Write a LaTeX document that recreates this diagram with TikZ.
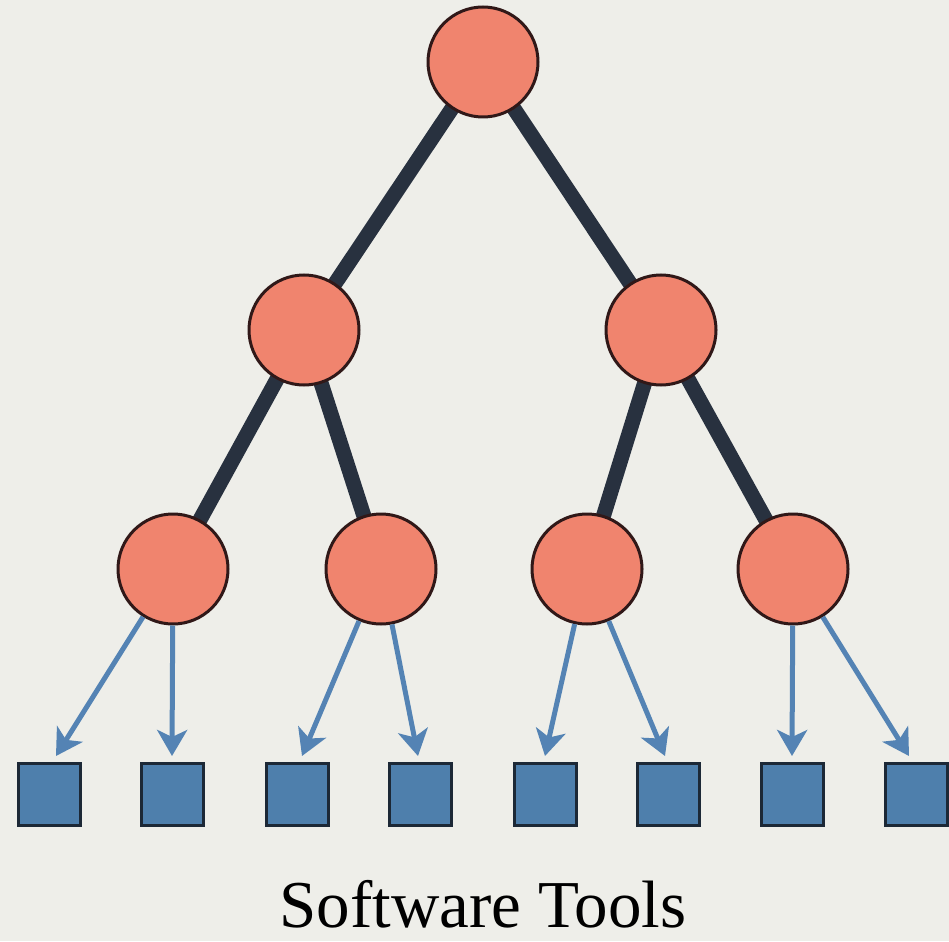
\documentclass[tikz,border=0pt]{standalone}
\usepackage{fontspec}
\setmainfont{Liberation Serif}
\usetikzlibrary{arrows.meta}
\definecolor{paper}{RGB}{238,238,233}
\definecolor{salmon}{RGB}{240,132,110}
\definecolor{rim}{RGB}{48,24,24}
\definecolor{branch}{RGB}{40,49,63}
\definecolor{toolfill}{RGB}{78,127,172}
\definecolor{toolrim}{RGB}{28,40,54}
\definecolor{link}{RGB}{84,131,180}
\pgfdeclarelayer{paperlayer}
\pgfdeclarelayer{edgelayer}
\pgfsetlayers{paperlayer,edgelayer,main}
\tikzset{
  treenode/.style={circle, fill=salmon, draw=rim, line width=3pt, minimum size=110pt, inner sep=0pt},
  toolbox/.style={rectangle, fill=toolfill, draw=toolrim, line width=3pt, minimum size=62pt, inner sep=0pt},
  branchline/.style={draw=branch, line width=15pt},
  linkarrow/.style={draw=link, line width=5pt, -{Stealth[length=26pt, width=30pt, inset=7pt]}}
}
\begin{document}
\begin{tikzpicture}[x=1pt, y=-1pt]
  \begin{pgfonlayer}{paperlayer}
    \fill[paper] (0,0) rectangle (949,941);
  \end{pgfonlayer}
  \useasboundingbox (0,0) rectangle (949,941);

  % binary tree of modules
  \node[treenode] (root) at (483,62) {};
  \node[treenode] (l)  at (304,330) {};
  \node[treenode] (r)  at (661,330) {};
  \node[treenode] (ll) at (173,569) {};
  \node[treenode] (lr) at (381,569) {};
  \node[treenode] (rl) at (587,569) {};
  \node[treenode] (rr) at (793,569) {};

  % tree branches, drawn under the circles
  \begin{pgfonlayer}{edgelayer}
    \foreach \a/\b in {root/l, root/r, l/ll, l/lr, r/rl, r/rr}
      \path[branchline] (\a.center) -- (\b.center);
  \end{pgfonlayer}

  % tools
  \foreach \i/\x in {1/49, 2/172, 3/297, 4/420, 5/545, 6/668, 7/792, 8/916}
    \node[toolbox] (t\i) at (\x,794.5) {};

  % arrows from each leaf module to its two tools
  \draw[linkarrow] (ll) -- ([xshift=7pt, yshift=6pt]t1.north);
  \draw[linkarrow] (ll) -- ([yshift=6pt]t2.north);
  \draw[linkarrow] (lr) -- ([xshift=5pt, yshift=6pt]t3.north);
  \draw[linkarrow] (lr) -- ([xshift=-2pt, yshift=6pt]t4.north);
  \draw[linkarrow] (rl) -- ([yshift=6pt]t5.north);
  \draw[linkarrow] (rl) -- ([xshift=-3pt, yshift=6pt]t6.north);
  \draw[linkarrow] (rr) -- ([yshift=6pt]t7.north);
  \draw[linkarrow] (rr) -- ([xshift=-7pt, yshift=6pt]t8.north);

  \node[font=\fontsize{67}{67}\selectfont, anchor=base] (title) at (483,927) {Software Tools};
\end{tikzpicture}
\end{document}
